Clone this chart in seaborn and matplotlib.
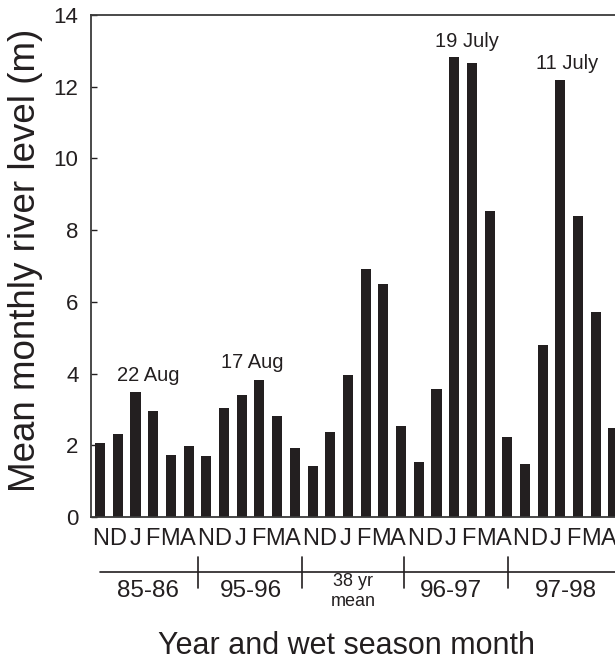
import numpy as np
import pandas as pd
import matplotlib
matplotlib.use("Agg")
import matplotlib.pyplot as plt
import matplotlib.transforms as mtransforms
import seaborn as sns

# ---- data ----
groups = ["85-86", "95-96", "38 yr\nmean", "96-97", "97-98"]
months = ["N", "D", "J", "F", "M", "A"]
level_8586 = [2.07, 2.31, 3.49, 2.95, 1.72, 1.97]
level_9596 = [1.70, 3.04, 3.39, 3.82, 2.83, 1.92]
level_mean = [1.43, 2.37, 3.95, 6.92, 6.50, 2.55]
level_9697 = [1.52, 3.57, 12.84, 12.66, 8.53, 2.23]
level_9798 = [1.49, 4.81, 12.19, 8.39, 5.72, 2.49]
peak_labels = ["22 Aug", "17 Aug", "19 July", "11 July"]

series = [level_8586, level_9596, level_mean, level_9697, level_9798]
df = pd.DataFrame({
    "slot": [f"{g}|{m}" for g in groups for m in months],
    "month": [m for g in groups for m in months],
    "level": np.concatenate(series),
})

sns.set_style("ticks")
plt.rcParams["font.family"] = ["Liberation Sans", "DejaVu Sans"]
ink = "#231f20"

fig = plt.figure(figsize=(6.15, 6.66), dpi=100)
ax = fig.add_axes([91 / 615, 1 - 517 / 666, 1 - 91 / 615 + 0.01, (517 - 15) / 666])

sns.barplot(data=df, x="slot", y="level", color=ink, width=0.57,
            saturation=1, ax=ax, linewidth=0)

ax.set_xlim(-0.514, 29.43)
ax.set_ylim(0, 14)
ax.set_yticks(range(0, 15, 2))
ax.set_xticks(range(len(df)))
ax.set_xticklabels(df["month"], family=["Liberation Sans Narrow", "Liberation Sans"])
ax.tick_params(axis="x", length=0, pad=8, labelsize=17, colors=ink)
ax.tick_params(axis="y", direction="in", length=4, width=1, pad=9,
               labelsize=16, colors=ink)
# squeeze the letter row a touch to the left, as in the original
n = len(df)
for i, lab in enumerate(ax.get_xticklabels()):
    shift = mtransforms.ScaledTranslation(-5 * i / (n - 1) / 100, 0, fig.dpi_scale_trans)
    lab.set_transform(lab.get_transform() + shift)
ax.set_xlabel("")
ax.set_ylabel("Mean monthly river level (m)", fontsize=26.5, color=ink)
ax.yaxis.set_label_coords(-0.09, 0.512)
for s in ["left", "bottom", "top"]:
    ax.spines[s].set_color("#3a3a3a")
    ax.spines[s].set_linewidth(1.3)
ax.spines["right"].set_visible(False)

# peak date annotations
ax.text(2.74, 3.96, peak_labels[0], ha="center", va="center", fontsize=14.5, color=ink)
ax.text(8.57, 4.30, peak_labels[1], ha="center", va="center", fontsize=14.5, color=ink)
ax.text(20.7, 13.27, peak_labels[2], ha="center", va="center", fontsize=14.5, color=ink)
ax.text(26.4, 12.66, peak_labels[3], ha="center", va="center", fontsize=14.5, color=ink)

# group bracket below the month letters
tr = mtransforms.blended_transform_factory(ax.transData, fig.transFigure)
def fy(py):
    return 1 - py / 666

ax.plot([0, 29.43], [fy(572), fy(572)], transform=tr, clip_on=False,
        color=ink, lw=1.2)
for xs in [5.54, 11.43, 17.14, 23.03]:
    ax.plot([xs, xs], [fy(557), fy(588)], transform=tr, clip_on=False,
            color=ink, lw=1.2)

centers = [2.7, 8.5, 14.3, 19.8, 26.3]
for name, cx in zip(groups, centers):
    if "\n" in name:
        top, bot = name.split("\n")
        ax.text(cx, fy(582), top, transform=tr, ha="center", va="center",
                fontsize=13, color=ink)
        ax.text(cx, fy(602), bot, transform=tr, ha="center", va="center",
                fontsize=13, color=ink)
    else:
        ax.text(cx, fy(591), name, transform=tr, ha="center", va="center",
                fontsize=17.5, color=ink)

fig.text(347 / 615, fy(646), "Year and wet season month", ha="center",
         va="center", fontsize=22, color=ink)

fig.savefig("out.png", dpi=100)
